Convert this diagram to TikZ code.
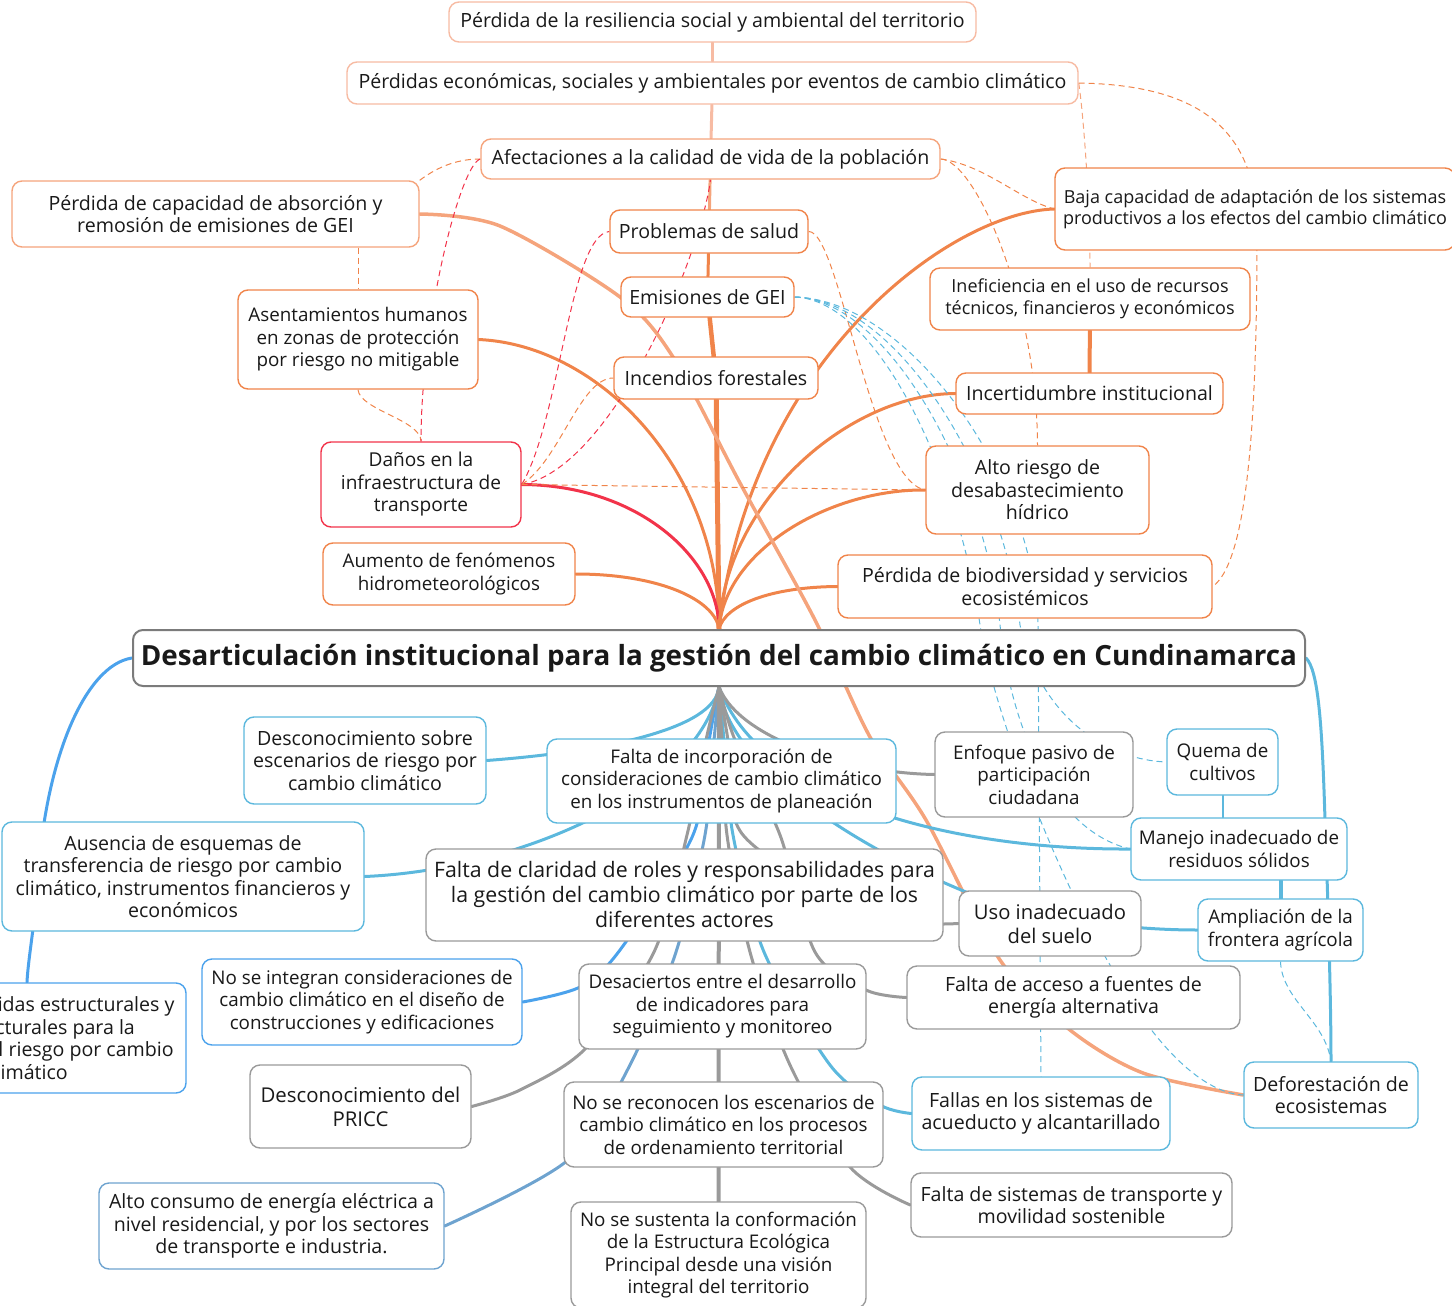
\documentclass[tikz,border=0pt]{standalone}
\usepackage{fontspec}
\setmainfont{Open Sans}
\usepackage{tikz}
\usetikzlibrary{backgrounds}
\definecolor{resc}{HTML}{F7BBA3}
\definecolor{salm}{HTML}{F5A47C}
\definecolor{oran}{HTML}{F0844A}
\definecolor{redc}{HTML}{F2334A}
\definecolor{bluc}{HTML}{5CB8DD}
\definecolor{blub}{HTML}{4BA2EC}
\definecolor{blus}{HTML}{6EA3CF}
\definecolor{gryc}{HTML}{9A9A9A}
\tikzstyle{topic} = [rectangle, rounded corners=10pt, draw, line width=1.4pt, fill=white, align=center, inner sep=0pt, text=black!90, font=\fontsize{19.6}{22.5}\selectfont]
\tikzstyle{small} = [font=\fontsize{18.8}{22.5}\selectfont]
\tikzstyle{conn} = [line width=3pt, line cap=round]
\tikzstyle{dlink} = [dash pattern=on 6pt off 4pt, line width=1pt]

\begin{document}
\begin{tikzpicture}[x=1pt, y=-1pt]
    \useasboundingbox (0,0) rectangle (1452,1306);

    \node (res) [topic, draw=resc, minimum width=527, minimum height=40] at (712.5,22) {Pérdida de la resiliencia social y ambiental del territorio};
    \node (perd) [topic, draw=resc, minimum width=731, minimum height=42] at (712.5,83) {Pérdidas económicas, sociales y ambientales por eventos de cambio climático};
    \node (afec) [topic, draw=salm, minimum width=459, minimum height=40] at (710.5,159) {Afectaciones a la calidad de vida de la población};
    \node (absor) [topic, draw=salm, minimum width=407, minimum height=66] at (215.5,214) {Pérdida de capacidad de absorción y\\remosión de emisiones de GEI};
    \node (salud) [topic, draw=oran, minimum width=198, minimum height=43] at (709,231.5) {Problemas de salud};
    \node (baja) [topic, draw=oran, minimum width=400, minimum height=82, font=\fontsize{18}{21}\selectfont] at (1255,209) {Baja capacidad de adaptación de los sistemas\\productivos a los efectos del cambio climático};
    \node (gei) [topic, draw=oran, minimum width=173, minimum height=40] at (707.5,297) {Emisiones de GEI};
    \node (inef) [topic, draw=oran, minimum width=320, minimum height=62, font=\fontsize{18}{22}\selectfont] at (1090,299) {Ineficiencia en el uso de recursos\\técnicos, financieros y económicos};
    \node (asent) [topic, small, draw=oran, minimum width=240, minimum height=99] at (358,339.5) {Asentamientos humanos\\en zonas de protección\\por riesgo no mitigable};
    \node (incend) [topic, draw=oran, minimum width=204, minimum height=42] at (716,378) {Incendios forestales};
    \node (incert) [topic, draw=oran, minimum width=267, minimum height=41] at (1089.5,393.5) {Incertidumbre institucional};
    \node (danos) [topic, draw=redc, minimum width=200, minimum height=85, font=\fontsize{19.1}{22.5}\selectfont] at (421,484.5) {Daños en la\\infraestructura de\\transporte};
    \node (alto) [topic, draw=oran, minimum width=223, minimum height=88] at (1037.5,490) {Alto riesgo de\\desabastecimiento\\hídrico};
    \node (aumento) [topic, small, draw=oran, minimum width=252, minimum height=62] at (449,574) {Aumento de fenómenos\\hidrometeorológicos};
    \node (biod) [topic, draw=oran, minimum width=374, minimum height=63] at (1025,586.5) {Pérdida de biodiversidad y servicios\\ecosistémicos};

    \node (root) [topic, draw=gryc!80!black, line width=2pt, minimum width=1172, minimum height=56, font=\fontsize{27.8}{32}\selectfont\bfseries] at (719,658) {Desarticulación institucional para la gestión del cambio climático en Cundinamarca};

    \node (desc) [topic, draw=bluc, minimum width=242, minimum height=87] at (365,760.5) {Desconocimiento sobre\\escenarios de riesgo por\\cambio climático};
    \node (faltainc) [topic, small, draw=bluc, minimum width=349, minimum height=84] at (721.5,781) {Falta de incorporación de\\consideraciones de cambio climático\\en los instrumentos de planeación};
    \node (enfoque) [topic, small, draw=gryc, minimum width=198, minimum height=85] at (1034,774.5) {Enfoque pasivo de\\participación\\ciudadana};
    \node (quema) [topic, small, draw=bluc, minimum width=111, minimum height=66] at (1222.5,762) {Quema de\\cultivos};
    \node (ausencia) [topic, draw=bluc, minimum width=362, minimum height=109] at (183,876.5) {Ausencia de esquemas de\\transferencia de riesgo por cambio\\climático, instrumentos financieros y\\económicos};
    \node (manejo) [topic, small, draw=bluc, minimum width=216, minimum height=62] at (1239,849) {Manejo inadecuado de\\residuos sólidos};
    \node (claridad) [topic, draw=gryc, minimum width=517, minimum height=92, font=\fontsize{21.3}{25}\selectfont] at (684.5,895) {Falta de claridad de roles y responsabilidades para\\la gestión del cambio climático por parte de los\\diferentes actores};
    \node (uso) [topic, draw=gryc, minimum width=182, minimum height=65, font=\fontsize{20.2}{24}\selectfont] at (1050,923.5) {Uso inadecuado\\del suelo};
    \node (ampl) [topic, small, draw=bluc, minimum width=165, minimum height=62] at (1280.5,930) {Ampliación de la\\frontera agrícola};
    \node (medidas) [topic, draw=blub, minimum width=318, minimum height=110] at (27,1038) {Falta de medidas estructurales y\\no estructurales para la\\reducción del riesgo por cambio\\climático};
    \node (noint) [topic, small, draw=blub, minimum width=320, minimum height=86] at (362,1002) {No se integran consideraciones de\\cambio climático en el diseño de\\construcciones y edificaciones};
    \node (desaciertos) [topic, small, draw=gryc, minimum width=287, minimum height=85] at (722.5,1006.5) {Desaciertos entre el desarrollo\\de indicadores para\\seguimiento y monitoreo};
    \node (acceso) [topic, draw=gryc, minimum width=333, minimum height=63] at (1073.5,997.5) {Falta de acceso a fuentes de\\energía alternativa};
    \node (pricc) [topic, draw=gryc, minimum width=221, minimum height=83, font=\fontsize{20.4}{24}\selectfont] at (360.5,1106.5) {Desconocimiento del\\PRICC};
    \node (noreco) [topic, small, draw=gryc, minimum width=319, minimum height=85] at (723.5,1124.5) {No se reconocen los escenarios de\\cambio climático en los procesos\\de ordenamiento territorial};
    \node (fallas) [topic, draw=bluc, minimum width=258, minimum height=73] at (1041,1113.5) {Fallas en los sistemas de\\acueducto y alcantarillado};
    \node (defor) [topic, draw=bluc, minimum width=174, minimum height=66] at (1331,1095) {Deforestación de\\ecosistemas};
    \node (altocons) [topic, draw=blus, minimum width=345, minimum height=86] at (271.5,1226) {Alto consumo de energía eléctrica a\\nivel residencial, y por los sectores\\de transporte e industria.};
    \node (sustenta) [topic, small, draw=gryc, minimum width=295, minimum height=106] at (718.5,1255) {No se sustenta la conformación\\de la Estructura Ecológica\\Principal desde una visión\\integral del territorio};
    \node (transp) [topic, draw=gryc, minimum width=321, minimum height=64] at (1071.5,1205) {Falta de sistemas de transporte y\\movilidad sostenible};

    \begin{scope}[on background layer]
    \draw [conn, resc, line width=2.5pt] (res) -- (perd);
    \draw [conn, resc] (perd) -- (afec);
    \draw [conn, salm] (afec) -- (salud);
    \draw [conn, oran] (salud) -- (gei);
    \draw [conn, oran, line width=4.5pt] (gei) -- (incend);
    \draw [conn, oran, line width=5pt] (incend) -- (root.north);
    \draw [conn, oran, line width=4pt] (inef) -- (incert);
    \draw [conn, oran] (asent.east) .. controls (600,345) and (719,470) .. (root.north);
    \draw [conn, redc] (danos.east) .. controls (640,485) and (719,560) .. (root.north);
    \draw [conn, oran] (aumento.east) .. controls (660,574) and (715,600) .. (root.north);
    \draw [conn, oran] (baja.west) .. controls (950,212) and (750,360) .. (root.north);
    \draw [conn, oran] (incert.west) .. controls (850,394) and (725,500) .. (root.north);
    \draw [conn, oran] (alto.west) .. controls (830,489) and (725,550) .. (root.north);
    \draw [conn, oran] (biod.west) .. controls (770,587) and (725,605) .. (root.north);
    \draw [conn, salm, line width=3.5pt] plot[smooth] coordinates {(absor.east) (500,226) (620,297) (673,357) (740,483) (815,620) (870,737) (926,820) (1000,960) (1070,1030) (1143,1073) (defor.west)};

    \draw [dlink, salm] (perd.east) .. controls (1083,110) and (1090,200) .. (inef.north);
    \draw [dlink, oran] (perd.east) .. controls (1200,85) and (1257,130) .. (1257,230) .. controls (1257,400) and (1250,560) .. (biod.east);
    \draw [dlink, oran] (afec.east) .. controls (985,165) and (1020,200) .. (baja.west);
    \draw [dlink, oran] (afec.east) .. controls (975,160) and (1037,300) .. (alto.north);
    \draw [dlink, oran] (absor.north east) .. controls (440,165) and (460,159) .. (afec.west);
    \draw [dlink, oran] (absor.south -| asent.north) -- (asent.north);
    \draw [dlink, oran] (asent.south) .. controls (360,410) and (421,420) .. (danos.north);
    \draw [dlink, redc] (afec.west) .. controls (460,165) and (421,320) .. (danos.north);
    \draw [dlink, redc] (danos.east) .. controls (560,420) and (570,235) .. (salud.west);
    \draw [dlink, redc] (danos.east) .. controls (610,470) and (700,260) .. (afec.south);
    \draw [dlink, oran] (danos.east) .. controls (560,460) and (580,378) .. (incend.west);
    \draw [dlink, oran] (danos.east) -- (alto.west);
    \draw [dlink, oran] (salud.east) .. controls (840,231) and (870,480) .. (alto.west);

    \draw [dlink, bluc] (gei.east) .. controls (880,300) and (960,480) .. (980,625) .. controls (995,720) and (1060,880) .. (1110,965) .. controls (1150,1040) and (1200,1093) .. (defor.west);
    \draw [dlink, bluc] (gei.east) .. controls (890,300) and (985,480) .. (1000,625) .. controls (1010,720) and (1050,830) .. (manejo.west);
    \draw [dlink, bluc] (gei.east) .. controls (900,300) and (1005,480) .. (1020,625) .. controls (1040,720) and (1110,760) .. (quema.west);
    \draw [dlink, bluc] (gei.east) .. controls (910,300) and (1035,480) .. (1038,625) -- (fallas.north);
    \draw [dlink, bluc] (ampl.south) .. controls (1282,1000) and (1325,1020) .. (defor.north);

    \draw [conn, bluc] (root.south) .. controls (715,730) and (600,752) .. (desc.east);
    \draw [conn, bluc] (root.south) .. controls (700,790) and (520,870) .. (ausencia.east);
    \draw [conn, bluc] (root.south) .. controls (730,780) and (900,870) .. (1000,905) .. controls (1080,925) and (1150,930) .. (ampl.west);
    \draw [conn, bluc] (root.south) .. controls (760,800) and (950,850) .. (manejo.west);
    \draw [conn, gryc] (root.south) .. controls (740,740) and (850,773) .. (enfoque.west);
    \draw [conn, blub] plot[smooth] coordinates {(root.south) (710,735) (693,835) (620,950) (580,987) (noint.east)};
    \draw [conn, blus] plot[smooth] coordinates {(root.south) (714,740) (705,835) (676,952) (630,1065) (568,1160) (altocons.east)};
    \draw [conn, bluc] plot[smooth] coordinates {(root.south) (724,740) (733,835) (764,952) (830,1065) (880,1105) (fallas.west)};
    \draw [conn, gryc] plot[smooth] coordinates {(root.south) (706,740) (687,835) (654,952) (585,1049) (520,1090) (pricc.east)};
    \draw [conn, gryc, line width=4pt] (root.south) -- (sustenta.north);
    \draw [conn, gryc] plot[smooth] coordinates {(root.south) (722,740) (727,835) (750,952) (790,1065) (850,1167) (transp.west)};
    \draw [conn, gryc] plot[smooth] coordinates {(root.south) (735,740) (780,835) (815,952) (866,990) (acceso.west)};
    \draw [conn, gryc] plot[smooth] coordinates {(root.south) (728,740) (743,835) (870,915) (uso.west)};

    \draw [conn, blub] (root.west) .. controls (85,665) and (45,760) .. (38,880) .. controls (34,930) and (28,960) .. (medidas.north);
    \draw [conn, bluc] (root.east) .. controls (1318,670) and (1322,720) .. (1325,820) .. controls (1328,900) and (1331,1000) .. (defor.north);
    \draw [conn, bluc, line width=2pt] (quema.south) -- (quema.south |- manejo.north);
    \draw [conn, bluc, line width=4pt] (ampl.north |- manejo.south) -- (ampl.north);
    \end{scope}

\end{tikzpicture}
\end{document}
